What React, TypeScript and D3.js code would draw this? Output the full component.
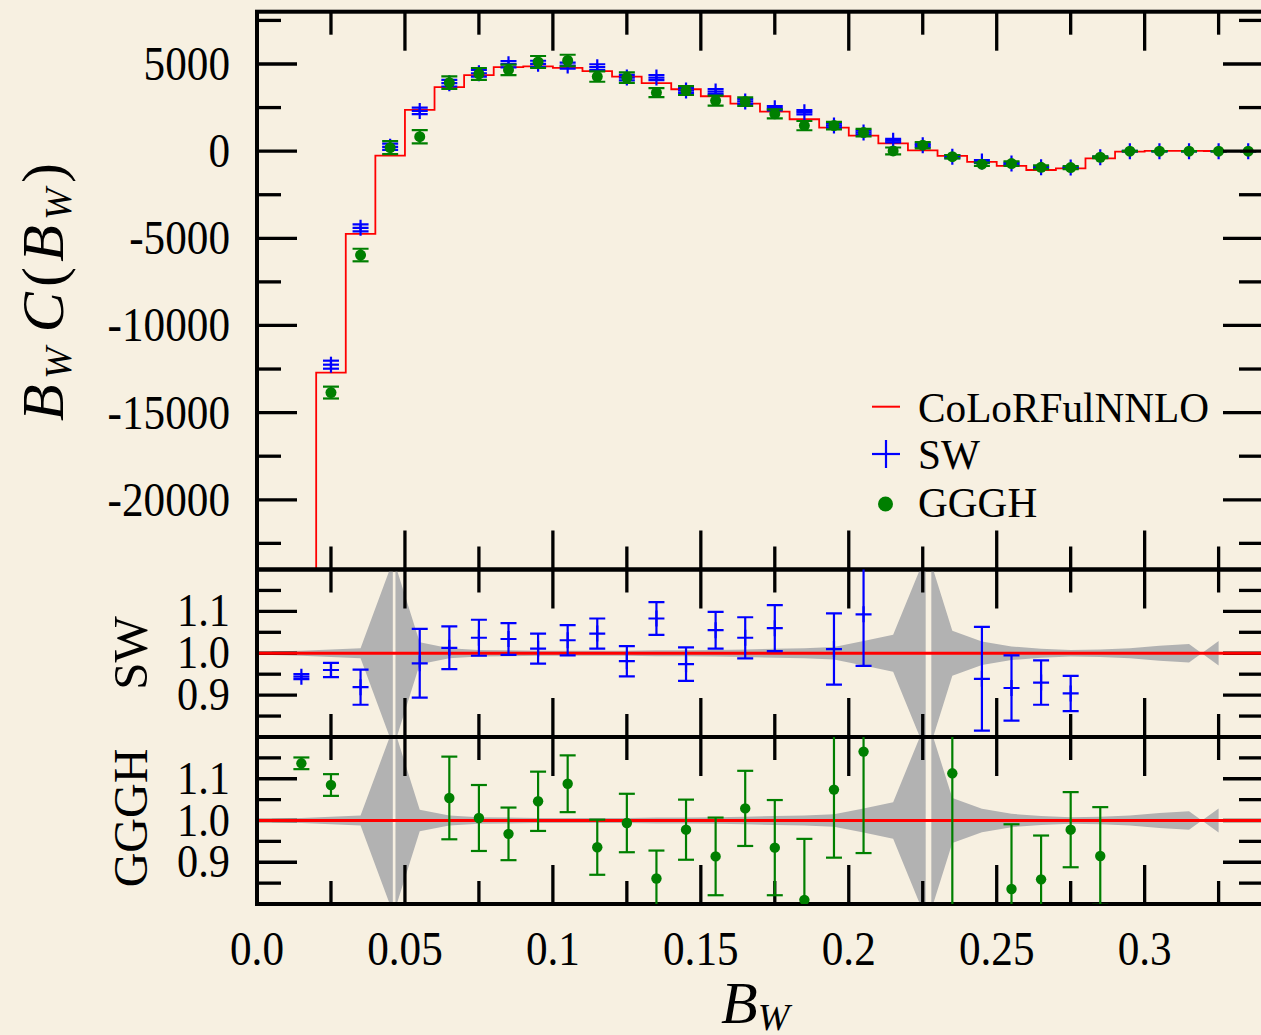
import React from 'react';
import * as d3 from 'd3';

// bin centres (width 0.01)
const binCenters = [
  0.015, 0.025, 0.035, 0.045, 0.055, 0.065, 0.075, 0.085, 0.095, 0.105, 0.115,
  0.125, 0.135, 0.145, 0.155, 0.165, 0.175, 0.185, 0.195, 0.205, 0.215, 0.225,
  0.235, 0.245, 0.255, 0.265, 0.275, 0.285, 0.295, 0.305, 0.315, 0.325, 0.335,
];
const binWidth = 0.01;

// CoLoRFulNNLO histogram
const colorful = [
  -52000, -12700, -4750, -260, 2370, 3670, 4360, 4820, 4860, 4780, 4590,
  4280, 3900, 3550, 3150, 2730, 2270, 1830, 1350, 890, 450, 50,
  -275, -620, -850, -1080, -985, -410, -25, 20, 15, 10, 0,
];

// SW points (main panel)
const swVals = [
  -49100, -12250, -4400, 250, 2310, 3900, 4470, 4990, 5010, 4910, 4820,
  4220, 4220, 3475, 3420, 2850, 2465, 2235, 1465, 1063, 603, 340,
  -315, -600, -715, -925, -945, -350, 0, 0, 0, 0, 0,
];
const swErrs = [
  300, 230, 200, 180, 190, 190, 190, 180, 175, 170, 165,
  155, 150, 140, 140, 135, 125, 120, 115, 110, 100, 95,
  90, 80, 65, 55, 45, 35, 20, 10, 10, 10, 5,
];

// GGGH points (main panel)
const ggghVals = [
  -59100, -13850, -5960, 200, 830, 3930, 4430, 4660, 5120, 5200, 4280,
  4220, 3360, 3475, 2900, 2845, 2140, 1465, 1465, 1063, 10, 340,
  -315, -750, -715, -925, -945, -350, 0, 0, 0, 0, 0,
];
const ggghErrs = [
  730, 340, 360, 370, 380, 360, 340, 300, 340, 330, 300,
  300, 260, 255, 290, 245, 260, 265, 220, 215, 200, 180,
  95, 100, 130, 110, 90, 50, 20, 10, 10, 10, 5,
];

// ratios to CoLoRFulNNLO (null = outside the panel)
const swRatio = [
  0.944, 0.96, 0.919, null, 0.976, 1.013, 1.037, 1.034, 1.011, 1.031, 1.047,
  0.981, 1.083, 0.974, 1.055, 1.037, 1.06, null, 1.01, 1.093, null, null,
  null, 0.939, 0.917, 0.93, 0.904, null, null, null, null, null, null,
];
const swRatioErr = [
  0.006, 0.017, 0.042, 0, 0.082, 0.051, 0.043, 0.038, 0.036, 0.036, 0.036,
  0.036, 0.039, 0.04, 0.044, 0.049, 0.055, 0, 0.085, 0.123, 0, 0,
  0, 0.124, 0.078, 0.053, 0.042, 0, 0, 0, 0, 0, 0,
];
const ggghRatio = [
  1.137, 1.085, null, null, null, 1.054, 1.006, 0.968, 1.046, 1.088, 0.936,
  0.994, 0.861, 0.978, 0.914, 1.029, 0.935, 0.81, 1.074, 1.165, null, null,
  1.113, null, 0.836, 0.859, 0.978, 0.915, null, null, null, null, null,
];
const ggghRatioErr = [
  0.014, 0.026, 0, 0, 0, 0.099, 0.079, 0.063, 0.071, 0.068, 0.066,
  0.07, 0.067, 0.072, 0.093, 0.09, 0.114, 0.146, 0.163, 0.243, 0, 0,
  0.34, 0, 0.155, 0.105, 0.09, 0.117, 0, 0, 0, 0, 0,
];

// theory uncertainty band (relative half width), split where it diverges
const bandX1 = [0.005, 0.015, 0.025, 0.035, 0.0459];
const bandH1 = [0.004, 0.006, 0.009, 0.012, 0.22];
const bandX2 = [
  0.0468, 0.055, 0.065, 0.075, 0.085, 0.095, 0.105, 0.115, 0.125, 0.135, 0.145,
  0.155, 0.165, 0.175, 0.185, 0.195, 0.205, 0.215, 0.226,
];
const bandH2 = [
  0.21, 0.026, 0.012, 0.008, 0.007, 0.006, 0.006, 0.006, 0.006, 0.007, 0.007,
  0.008, 0.009, 0.011, 0.012, 0.015, 0.029, 0.044, 0.234,
];
const bandX3 = [0.2279, 0.235, 0.245, 0.255, 0.265, 0.275, 0.285, 0.295, 0.305, 0.315, 0.325];
const bandH3 = [0.214, 0.054, 0.028, 0.016, 0.011, 0.008, 0.009, 0.012, 0.018, 0.022, -0.029];

// tick labels
const xTickVals = [0, 0.05, 0.1, 0.15, 0.2, 0.25, 0.3];
const xTickLabels = ['0.0', '0.05', '0.1', '0.15', '0.2', '0.25', '0.3'];
const yTopTickVals = [5000, 0, -5000, -10000, -15000, -20000];
const yTopTickLabels = ['5000', '0', '-5000', '-10000', '-15000', '-20000'];
const ratioTickVals = [1.1, 1.0, 0.9];
const ratioTickLabels = ['1.1', '1.0', '0.9'];

const legendLabels = ['CoLoRFulNNLO', 'SW', 'GGGH'];

const BG = '#f7f0e1';
const RED = '#ff0000';
const BLUE = '#0000ff';
const GREEN = '#007f00';
const GRAY = '#b2b2b2';
const FONT = "'Liberation Serif', 'DejaVu Serif', serif";

const LEFT = 257;
const RIGHT = 1263;
const TOP = 11.7;
const MID1 = 569.5;
const MID2 = 737;
const BOTTOM = 904;

const x = d3.scaleLinear().domain([0, 0.34]).range([LEFT, RIGHT]);
const yTop = d3.scaleLinear().domain([-24000, 8000]).range([MID1, TOP]);
const ySW = d3.scaleLinear().domain([0.8, 1.2]).range([MID2, MID1]);
const yGG = d3.scaleLinear().domain([0.8, 1.2]).range([BOTTOM, MID2]);

const MAJ = 40;
const MIN = 24;
const TW = 3.3;

type TickY = { y: number; major: boolean };

const Frame = ({ top, bottom, yTicks }: { top: number; bottom: number; yTicks: TickY[] }) => {
  const xt = d3.range(1, 14).map((i) => ({ px: x(i * 0.025), major: i % 2 === 0 }));
  return (
    <g stroke="#000" strokeWidth={TW}>
      {xt.map((t, i) => (
        <g key={'x' + i}>
          <line x1={t.px} x2={t.px} y1={top} y2={top + (t.major ? MAJ - 1 : MIN - 1)} />
          <line x1={t.px} x2={t.px} y1={bottom} y2={bottom - (t.major ? MAJ - 1 : MIN - 1)} />
        </g>
      ))}
      {yTicks.map((t, i) => (
        <g key={'y' + i}>
          <line x1={LEFT} x2={LEFT + (t.major ? MAJ : MIN)} y1={t.y} y2={t.y} />
          <line x1={RIGHT} x2={RIGHT - (t.major ? MAJ : MIN)} y1={t.y} y2={t.y} />
        </g>
      ))}
      <rect x={LEFT} y={top} width={RIGHT - LEFT} height={bottom - top} fill="none" strokeWidth={4} />
    </g>
  );
};

const Label = ({ x: px, y: py, anchor, size, sx, children }: any) => (
  <text
    transform={`translate(${px},${py}) scale(${sx},1)`}
    textAnchor={anchor}
    fontFamily={FONT}
    fontSize={size}
    fill="#000"
  >
    {children}
  </text>
);

const PlusBar = ({ cx, cy, y0, y1 }: { cx: number; cy: number; y0: number; y1: number }) => (
  <g stroke={BLUE} strokeWidth={2.2} fill="none">
    <line x1={cx} x2={cx} y1={y0} y2={y1} />
    <line x1={cx - 8} x2={cx + 8} y1={y0} y2={y0} />
    <line x1={cx - 8} x2={cx + 8} y1={y1} y2={y1} />
    <line x1={cx - 8} x2={cx + 8} y1={cy} y2={cy} />
    <line x1={cx} x2={cx} y1={cy - 8} y2={cy + 8} />
  </g>
);

const DotBar = ({ cx, cy, y0, y1, r }: { cx: number; cy: number; y0: number; y1: number; r: number }) => (
  <g stroke={GREEN} strokeWidth={2.2} fill={GREEN}>
    <line x1={cx} x2={cx} y1={y0} y2={y1} />
    <line x1={cx - 8} x2={cx + 8} y1={y0} y2={y0} />
    <line x1={cx - 8} x2={cx + 8} y1={y1} y2={y1} />
    <circle cx={cx} cy={cy} r={r} stroke="none" />
  </g>
);

const RatioPanel = ({
  yR,
  top,
  bottom,
  vals,
  errs,
  kind,
  clipId,
}: {
  yR: d3.ScaleLinear<number, number>;
  top: number;
  bottom: number;
  vals: (number | null)[];
  errs: number[];
  kind: 'sw' | 'gggh';
  clipId: string;
}) => {
  const area = d3
    .area<[number, number]>()
    .x((d) => x(d[0]))
    .y0((d) => yR(1 - d[1]))
    .y1((d) => yR(1 + d[1]));
  const segs = [
    bandX1.map((v, i) => [v, bandH1[i]] as [number, number]),
    bandX2.map((v, i) => [v, bandH2[i]] as [number, number]),
    bandX3.map((v, i) => [v, bandH3[i]] as [number, number]),
  ];
  const yTicks: TickY[] = [0.85, 0.9, 0.95, 1.0, 1.05, 1.1, 1.15].map((v, i) => ({
    y: yR(v),
    major: i % 2 === 1,
  }));
  return (
    <g>
      <defs>
        <clipPath id={clipId}>
          <rect x={LEFT} y={top} width={RIGHT - LEFT} height={bottom - top} />
        </clipPath>
      </defs>
      <g clipPath={`url(#${clipId})`}>
        {segs.map((s, i) => (
          <path key={i} d={area(s) || ''} fill={GRAY} />
        ))}
      </g>
      <Frame top={top} bottom={bottom} yTicks={yTicks} />
      <g clipPath={`url(#${clipId})`}>
        <line x1={LEFT + 2} x2={RIGHT} y1={yR(1)} y2={yR(1)} stroke={RED} strokeWidth={3} />
        {binCenters.map((c, i) => {
          const v = vals[i];
          if (v === null) return null;
          const cx = x(c);
          const cy = yR(v);
          const y0 = yR(v - errs[i]);
          const y1 = yR(v + errs[i]);
          return kind === 'sw' ? (
            <PlusBar key={i} cx={cx} cy={cy} y0={y0} y1={y1} />
          ) : (
            <DotBar key={i} cx={cx} cy={cy} y0={y0} y1={y1} r={5.2} />
          );
        })}
      </g>
      {ratioTickVals.map((v, i) => (
        <Label key={i} x={230} y={yR(v) + 15} anchor="end" size={46} sx={0.92}>
          {ratioTickLabels[i]}
        </Label>
      ))}
    </g>
  );
};

const App = () => {
  const stepPts: [number, number][] = binCenters.map((c, i) => [c - binWidth / 2, colorful[i]]);
  stepPts.push([binCenters[binCenters.length - 1] + binWidth / 2, colorful[colorful.length - 1]]);
  const step = d3
    .line<[number, number]>()
    .x((d) => x(d[0]))
    .y((d) => yTop(d[1]))
    .curve(d3.curveStepAfter);

  const topTicks: TickY[] = d3.range(-22500, 8000, 2500).map((v) => ({
    y: yTop(v),
    major: v % 5000 === 0,
  }));

  return (
    <svg
      width={1261}
      height={1035}
      style={{ position: 'absolute', left: 0, top: 0 }}
      xmlns="http://www.w3.org/2000/svg"
    >
      <rect width={1261} height={1035} fill={BG} />
      <defs>
        <clipPath id="clipTop">
          <rect x={LEFT} y={TOP} width={RIGHT - LEFT} height={MID1 - TOP} />
        </clipPath>
      </defs>

      {/* main panel */}
      <g clipPath="url(#clipTop)">
        <path d={step(stepPts) || ''} fill="none" stroke={RED} strokeWidth={1.8} />
        {binCenters.map((c, i) => (
          <PlusBar
            key={'s' + i}
            cx={x(c)}
            cy={yTop(swVals[i])}
            y0={yTop(swVals[i] - swErrs[i])}
            y1={yTop(swVals[i] + swErrs[i])}
          />
        ))}
        {binCenters.map((c, i) => (
          <DotBar
            key={'g' + i}
            cx={x(c)}
            cy={yTop(ggghVals[i])}
            y0={yTop(ggghVals[i] - ggghErrs[i])}
            y1={yTop(ggghVals[i] + ggghErrs[i])}
            r={5.5}
          />
        ))}
      </g>
      <Frame top={TOP} bottom={MID1} yTicks={topTicks} />
      {yTopTickVals.map((v, i) => (
        <Label key={i} x={230} y={yTop(v) + 16} anchor="end" size={48} sx={0.9}>
          {yTopTickLabels[i]}
        </Label>
      ))}

      {/* legend */}
      <line x1={872} x2={900} y1={406.7} y2={406.7} stroke={RED} strokeWidth={2} />
      <g stroke={BLUE} strokeWidth={2.2}>
        <line x1={872} x2={900} y1={454} y2={454} />
        <line x1={886} x2={886} y1={440} y2={468} />
      </g>
      <circle cx={885.5} cy={504} r={7.5} fill={GREEN} />
      {legendLabels.map((l, i) => (
        <Label key={l} x={918} y={[421.5, 468.5, 516.5][i]} anchor="start" size={43} sx={0.96}>
          {l}
        </Label>
      ))}

      {/* ratio panels */}
      <RatioPanel yR={ySW} top={MID1} bottom={MID2} vals={swRatio} errs={swRatioErr} kind="sw" clipId="clipSW" />
      <RatioPanel yR={yGG} top={MID2} bottom={BOTTOM} vals={ggghRatio} errs={ggghRatioErr} kind="gggh" clipId="clipGG" />

      {/* x tick labels */}
      {xTickVals.map((v, i) => (
        <Label key={i} x={x(v)} y={965} anchor="middle" size={48} sx={0.9}>
          {xTickLabels[i]}
        </Label>
      ))}

      {/* axis titles */}
      <text x={721} y={1023} fontFamily={FONT} fontSize={60} fontStyle="italic">
        B
        <tspan fontSize={38} dy={7}>W</tspan>
      </text>
      <text
        transform="translate(63,292) rotate(-90)"
        textAnchor="middle"
        fontFamily={FONT}
        fontSize={60}
        textLength={258}
        lengthAdjust="spacing"
      >
        <tspan fontStyle="italic">B</tspan>
        <tspan fontStyle="italic" fontSize={38} dy={8}>W</tspan>
        <tspan dy={-8} dx={10} fontStyle="italic">C</tspan>
        <tspan>(</tspan>
        <tspan fontStyle="italic">B</tspan>
        <tspan fontStyle="italic" fontSize={38} dy={8}>W</tspan>
        <tspan dy={-8}>)</tspan>
      </text>
      <text transform="translate(147,653) rotate(-90)" textAnchor="middle" fontFamily={FONT} fontSize={49}>
        SW
      </text>
      <text transform="translate(147,818) rotate(-90)" textAnchor="middle" fontFamily={FONT} fontSize={48}>
        GGGH
      </text>
    </svg>
  );
};

export default App;
